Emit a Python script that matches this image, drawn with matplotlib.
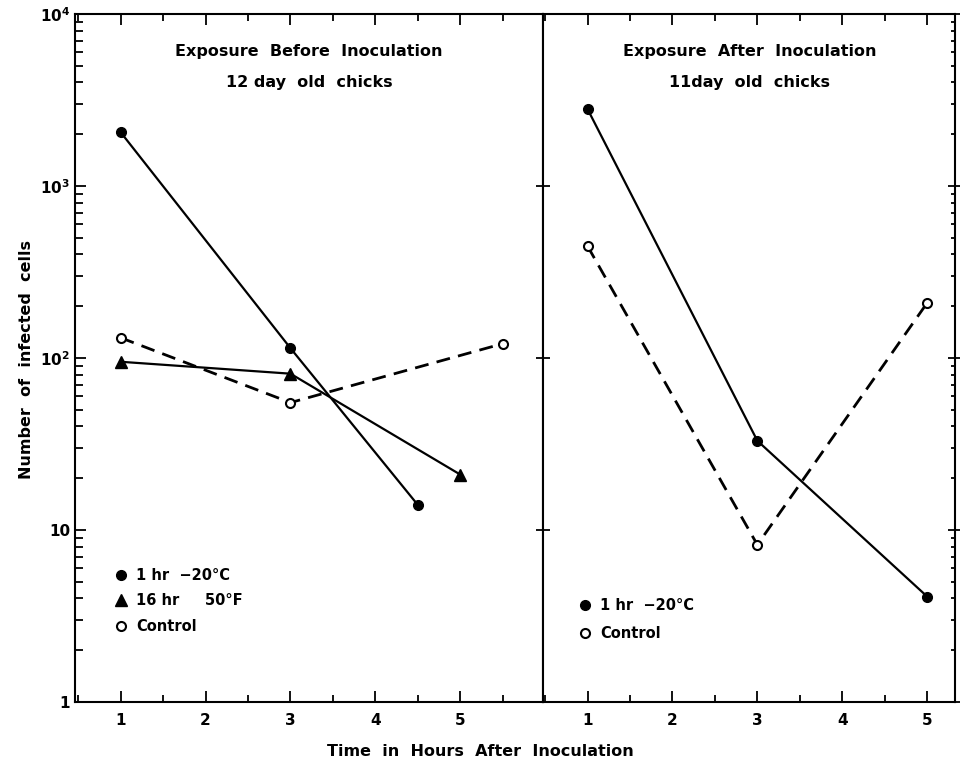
import matplotlib.pyplot as plt
from matplotlib.ticker import LogLocator, MultipleLocator, NullFormatter, FixedLocator, FixedFormatter

plt.rcParams['font.family'] = ['DejaVu Sans']
plt.rcParams['font.weight'] = 'bold'

# left panel: exposure before inoculation
before_x_cold = [1, 3, 4.5]
before_y_cold = [2050, 114, 14]
before_x_warm = [1, 3, 5]
before_y_warm = [95, 81, 21]
before_x_ctrl = [1, 3, 5.5]
before_y_ctrl = [131, 55, 121]

# right panel: exposure after inoculation
after_x = [1, 3, 5]
after_y_cold = [2800, 33, 4.1]
after_y_ctrl = [447, 8.2, 209]

x_ticks = [1, 2, 3, 4, 5]
y_ticks = [1, 10, 100, 1000, 10000]
y_labels = ['1', '10', '10$^2$', '10$^3$', '10$^4$']

fig = plt.figure(figsize=(9.6, 7.65), dpi=100)
ax1 = fig.add_axes([0.078, 0.0824, 0.488, 0.8994])
ax2 = fig.add_axes([0.566, 0.0824, 0.429, 0.8994])

ax1.plot(before_x_cold, before_y_cold, '-', color='black', lw=1.6,
         marker='o', ms=7, mfc='black')
ax1.plot(before_x_warm, before_y_warm, '-', color='black', lw=1.6,
         marker='^', ms=8, mfc='black')
ax1.plot(before_x_ctrl, before_y_ctrl, '--', color='black', lw=2, dashes=(5, 3),
         marker='o', ms=6.5, mfc='white', mew=1.5)

ax2.plot(after_x, after_y_cold, '-', color='black', lw=1.6,
         marker='o', ms=7, mfc='black')
ax2.plot(after_x, after_y_ctrl, '--', color='black', lw=2, dashes=(5, 3),
         marker='o', ms=6.5, mfc='white', mew=1.5)

for ax in (ax1, ax2):
    ax.set_yscale('log')
    ax.set_ylim(1, 10000)
    for s in ax.spines.values():
        s.set_linewidth(1.5)
    ax.xaxis.set_major_locator(FixedLocator(x_ticks))
    ax.xaxis.set_minor_locator(MultipleLocator(0.5))
    ax.tick_params(axis='x', which='major', direction='in', length=8, width=1.3,
                   top=True, labelsize=11, pad=8)
    ax.tick_params(axis='x', which='minor', direction='in', length=5, width=1.3,
                   top=True)

ax1.set_xlim(0.46, 5.98)
ax2.set_xlim(0.48, 5.33)

ax1.yaxis.set_major_locator(FixedLocator(y_ticks))
ax1.yaxis.set_major_formatter(FixedFormatter(y_labels))
ax1.yaxis.set_minor_locator(LogLocator(base=10, subs=range(2, 10)))
ax1.yaxis.set_minor_formatter(NullFormatter())
ax1.tick_params(axis='y', which='major', direction='in', length=8, width=1.3,
                right=False, labelsize=11)
ax1.tick_params(axis='y', which='minor', direction='in', length=6, width=1.3,
                right=False)

ax2.yaxis.set_major_locator(FixedLocator(y_ticks))
ax2.yaxis.set_major_formatter(NullFormatter())
ax2.yaxis.set_minor_locator(LogLocator(base=10, subs=range(2, 10)))
ax2.yaxis.set_minor_formatter(NullFormatter())
ax2.tick_params(axis='y', which='major', direction='inout', length=10, width=1.3,
                left=True, right=True)
ax2.tick_params(axis='y', which='minor', direction='in', length=3, width=1.3,
                left=False, right=True)

ax1.text(0.5, 0.945, 'Exposure  Before  Inoculation', transform=ax1.transAxes,
         ha='center', va='center', fontsize=11.5)
ax1.text(0.5, 0.90, '12 day  old  chicks', transform=ax1.transAxes,
         ha='center', va='center', fontsize=11.5)
ax2.text(0.5, 0.945, 'Exposure  After  Inoculation', transform=ax2.transAxes,
         ha='center', va='center', fontsize=11.5)
ax2.text(0.5, 0.90, '11day  old  chicks', transform=ax2.transAxes,
         ha='center', va='center', fontsize=11.5)

# legends
ax1.legend([ax1.lines[0], ax1.lines[1], ax1.lines[2]],
           ['1 hr  \u221220\u00b0C', '16 hr     50\u00b0F', 'Control'],
           loc='lower left', bbox_to_anchor=(0.071, 0.08), frameon=False,
           handlelength=0, handletextpad=1.0, fontsize=10.5, labelspacing=0.72)
for h in ax1.get_legend().legend_handles:
    h.set_linestyle('none')
ax2.legend([ax2.lines[0], ax2.lines[1]],
           ['1 hr  \u221220\u00b0C', 'Control'],
           loc='lower left', bbox_to_anchor=(0.07, 0.07), frameon=False,
           handlelength=0, handletextpad=1.0, fontsize=10.5, labelspacing=0.85)
for h in ax2.get_legend().legend_handles:
    h.set_linestyle('none')

fig.text(0.5, 0.018, 'Time  in  Hours  After  Inoculation', ha='center',
         va='center', fontsize=11.5)
fig.text(0.028, 0.53, 'Number  of  infected  cells', rotation=90, ha='center',
         va='center', fontsize=11.5)

fig.savefig('out.png', dpi=100)
